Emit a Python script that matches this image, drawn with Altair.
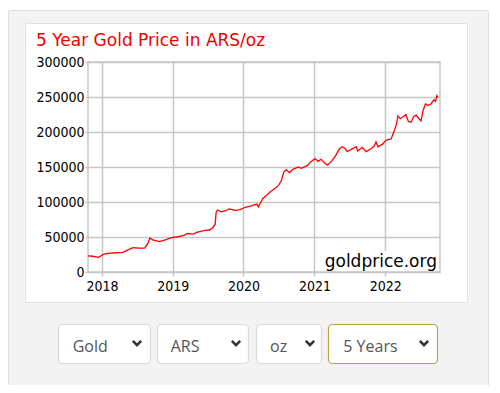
import altair as alt
import pandas as pd

# ---------------- data ----------------
dates = [
    "2017-10-21", "2017-11-15", "2017-12-15", "2018-01-10", "2018-02-01", "2018-03-15",
    "2018-04-20", "2018-05-15", "2018-06-10", "2018-07-10", "2018-08-10", "2018-08-28",
    "2018-09-05", "2018-09-20", "2018-10-25", "2018-11-20", "2018-12-25", "2019-01-20",
    "2019-02-25", "2019-03-20", "2019-04-15", "2019-05-10", "2019-06-10", "2019-07-10",
    "2019-07-25", "2019-08-08", "2019-08-13", "2019-08-20", "2019-09-10", "2019-10-01",
    "2019-10-20", "2019-11-20", "2019-12-15", "2020-01-10", "2020-02-10", "2020-03-10",
    "2020-03-18", "2020-04-10", "2020-05-01", "2020-05-20", "2020-06-15", "2020-07-01",
    "2020-07-15", "2020-07-28", "2020-08-10", "2020-08-25", "2020-09-15", "2020-10-10",
    "2020-10-25", "2020-11-25", "2020-12-15", "2021-01-05", "2021-01-20", "2021-02-05",
    "2021-02-25", "2021-03-10", "2021-03-30", "2021-04-20", "2021-05-10", "2021-05-25",
    "2021-06-10", "2021-06-20", "2021-07-15", "2021-08-05", "2021-08-12", "2021-09-05",
    "2021-09-25", "2021-10-20", "2021-11-05", "2021-11-15", "2021-11-25", "2021-12-20",
    "2022-01-05", "2022-01-20", "2022-02-01", "2022-02-20", "2022-03-01", "2022-03-08",
    "2022-03-20", "2022-04-05", "2022-04-18", "2022-05-01", "2022-05-15", "2022-05-28",
    "2022-06-10", "2022-06-25", "2022-07-05", "2022-07-15", "2022-07-28", "2022-08-10",
    "2022-08-25", "2022-09-10", "2022-09-18", "2022-09-25", "2022-10-01",
]
prices = [
    22900, 22500, 21000, 25500, 26700, 27500,
    28100, 31500, 34700, 34000, 34300, 42000,
    48500, 46000, 43300, 45500, 49000, 50000,
    52000, 55000, 54000, 57000, 59000, 60000,
    62900, 68000, 85000, 88600, 86000, 87500,
    90000, 88000, 89000, 92500, 94500, 97000,
    93000, 105000, 110000, 115000, 120000, 124000,
    131000, 143300, 146000, 142000, 147000, 150000,
    148000, 152000, 158000, 162000, 158000, 161000,
    155000, 153000, 158000, 166000, 176000, 179000,
    176000, 172000, 176000, 179000, 173000, 178000,
    172000, 176000, 180000, 186000, 179000, 183000,
    188000, 189500, 190000, 204000, 212000, 223000,
    219000, 222000, 225000, 215000, 214000, 222000,
    224000, 219000, 216000, 230000, 240000, 238000,
    240000, 246000, 244000, 252000, 249500,
]
year_ticks = [2018, 2019, 2020, 2021, 2022]
price_ticks = [0, 50000, 100000, 150000, 200000, 250000, 300000]
title_text = "5 Year Gold Price in ARS/oz"
watermark = "goldprice.org"
dropdown_labels = ["Gold", "ARS", "oz", "5 Years"]

df = pd.DataFrame({"date": dates, "price": prices})
one = pd.DataFrame({"k": [0]})

W, H = 352, 210
GRID = "#c6c6c6"
PANEL = "#f3f3f3"
TICKFONT = "DejaVu Sans Condensed"
TEXTFONT = "DejaVu Sans"


def rect(x1, y1, x2, y2, fill, stroke=None, sw=1, r=0, opacity=1):
    kw = dict(fill=fill, cornerRadius=r, fillOpacity=opacity)
    if stroke:
        kw.update(stroke=stroke, strokeWidth=sw)
    return alt.Chart(one).mark_rect(**kw).encode(
        x=alt.value(x1), x2=alt.value(x2), y=alt.value(y1), y2=alt.value(y2)
    )


layers = []
# gray panel strips around the white chart box
layers.append(rect(-80, -52, 401, -39, PANEL))
layers.append(rect(-80, 241, 401, 330, PANEL))
layers.append(rect(-80, -39, -63, 241, PANEL))
layers.append(rect(380, -39, 401, 241, PANEL))
# borders
layers.append(rect(-79.5, -51.5, 400.5, 340, PANEL, stroke="#dedede", r=3, opacity=0))
layers.append(rect(-62.5, -38.5, 379.5, 240.5, "white", stroke="#e2e2e2", opacity=0))
# white background behind watermark
layers.append(rect(235, 189, 351, 209, "white"))

# line
line = alt.Chart(df).mark_line(color="#ff0000", strokeWidth=1.3).encode(
    x=alt.X(
        "date:T",
        scale=alt.Scale(
            type="utc",
            domain=[
                alt.DateTime(year=2017, month=10, date=21, utc=True),
                alt.DateTime(year=2022, month=10, date=11, utc=True),
            ],
        ),
        axis=alt.Axis(
            values=[alt.DateTime(year=y, month=1, date=1, utc=True) for y in year_ticks],
            format="%Y",
            title=None,
            labelFont=TICKFONT,
            labelFontSize=14,
            labelColor="#000",
            labelPadding=3,
            tickSize=4,
            tickColor=GRID,
            tickWidth=1.5,
            gridColor=GRID,
            gridWidth=1.5,
            domain=False,
            labelFlush=False,
        ),
    ),
    y=alt.Y(
        "price:Q",
        scale=alt.Scale(domain=[0, 300000], nice=False, zero=True),
        axis=alt.Axis(
            values=price_ticks,
            format="d",
            title=None,
            labelFont=TICKFONT,
            labelFontSize=14,
            labelColor="#000",
            labelPadding=1,
            tickSize=3,
            tickColor=GRID,
            tickWidth=1.5,
            gridColor=GRID,
            gridWidth=1.5,
            domain=False,
        ),
    ),
)
layers.append(line)

# title
layers.append(
    alt.Chart(one).mark_text(
        text=title_text, align="left", baseline="alphabetic", font=TEXTFONT,
        fontSize=17, color="#f00000",
    ).encode(x=alt.value(-52), y=alt.value(-16.3))
)
# watermark
layers.append(
    alt.Chart(one).mark_text(
        text=watermark, align="right", baseline="alphabetic", font=TEXTFONT,
        fontSize=17, color="#000",
    ).encode(x=alt.value(349), y=alt.value(204.5))
)

# dropdowns
boxes = [(-30, 63), (69, 161), (168, 234), (240, 350)]
text_x = [-15.3, 82.7, 182, 255.3]
chev_x = [49, 148, 222, 336]
for i, lab in enumerate(dropdown_labels):
    bx1, bx2 = boxes[i]
    border = "#b3a74a" if i == 3 else "#dadada"
    layers.append(rect(bx1 + 0.5, 262.5, bx2 - 0.5, 301.5, "white", stroke=border, sw=1.2, r=4))
    layers.append(
        alt.Chart(one).mark_text(
            text=lab, align="left", baseline="alphabetic", font="Open Sans",
            fontSize=16, color="#555555",
        ).encode(x=alt.value(text_x[i]), y=alt.value(289.5))
    )
    layers.append(
        alt.Chart(one).mark_point(
            shape="M-1,-0.5L0,0.5L1,-0.5", filled=False, size=70,
            strokeWidth=2.6, color="#333333", opacity=1,
        ).encode(x=alt.value(chev_x[i]), y=alt.value(281))
    )

chart = (
    alt.layer(*layers)
    .properties(
        width=W,
        height=H,
        autosize=alt.AutoSizeParams(type="none"),
        padding={"left": 80, "top": 54, "right": 52, "bottom": 113},
        background="white",
    )
    .configure_view(stroke=GRID, strokeWidth=1.5)
)

chart.save("out.html", embed_options={"renderer": "svg", "actions": False})
